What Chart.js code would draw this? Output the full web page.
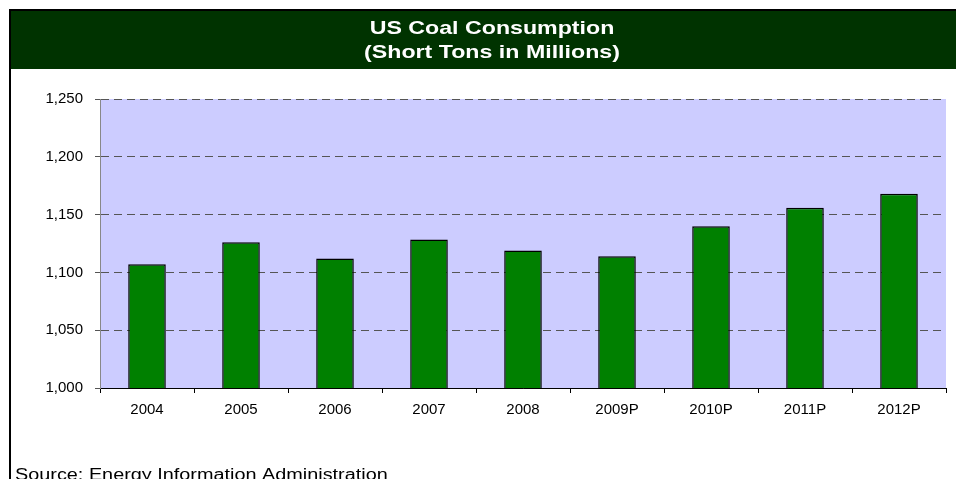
<!DOCTYPE html>
<html>
<head>
<meta charset="utf-8">
<script src="https://cdn.jsdelivr.net/npm/chart.js@4"></script>
<style>
html,body{margin:0;padding:0;background:#fff;}
canvas{display:block;}
</style>
</head>
<body>
<canvas id="c" width="956" height="479"></canvas>
<script>
const categories = ['2004','2005','2006','2007','2008','2009P','2010P','2011P','2012P'];
const consumption = [1107, 1126, 1112, 1128.5, 1119, 1114, 1140, 1156, 1168];
const titleLines = ['US Coal Consumption', '(Short Tons in Millions)'];
const sourceText = 'Source: Energy Information Administration';
const yMin = 1000, yMax = 1250, yStep = 50;

const framePlugin = {
  id: 'frame',
  beforeDraw(chart) {
    const ctx = chart.ctx, a = chart.chartArea;
    ctx.save();
    ctx.fillStyle = '#fff';
    ctx.fillRect(0, 0, chart.width, chart.height);
    ctx.fillStyle = '#003300';
    ctx.fillRect(10, 10, chart.width - 10, 59);
    ctx.strokeStyle = '#000';
    ctx.lineWidth = 2;
    ctx.beginPath();
    ctx.moveTo(10, chart.height);
    ctx.lineTo(10, 10);
    ctx.lineTo(chart.width, 10);
    ctx.stroke();
    ctx.fillStyle = '#CCCCFF';
    ctx.fillRect(a.left, a.top, a.right - a.left, a.bottom - a.top);
    ctx.restore();
  },
  afterDraw(chart) {
    const ctx = chart.ctx;
    ctx.save();
    ctx.fillStyle = '#fff';
    ctx.font = 'bold 19px "Liberation Sans", Arial, sans-serif';
    ctx.textAlign = 'center';
    ctx.textBaseline = 'alphabetic';
    const base = [33.5, 58];
    titleLines.forEach((t, i) => {
      ctx.save();
      ctx.translate(492, base[i]);
      ctx.scale(1.22, 1);
      ctx.fillText(t, 0, 0);
      ctx.restore();
    });
    ctx.fillStyle = '#000';
    ctx.font = '16px "Liberation Sans", Arial, sans-serif';
    ctx.textAlign = 'left';
    ctx.save();
    ctx.translate(15, 480);
    ctx.scale(1.24, 1);
    ctx.fillText(sourceText, 0, 0);
    ctx.restore();
    ctx.restore();
  }
};

new Chart(document.getElementById('c'), {
  type: 'bar',
  data: {
    labels: categories,
    datasets: [{
      data: consumption,
      backgroundColor: '#008000',
      borderColor: '#000',
      borderWidth: 1.5,
      barPercentage: 0.4,
      categoryPercentage: 1.0
    }]
  },
  options: {
    responsive: false,
    devicePixelRatio: 1,
    animation: false,
    layout: { padding: { top: 99, right: 10, left: 0, bottom: 0 } },
    plugins: { legend: { display: false }, title: { display: false }, tooltip: { enabled: false } },
    scales: {
      x: {
        afterFit(s) { s.height = 91; },
        grid: { display: true, drawOnChartArea: false, drawTicks: true, tickLength: 5, offset: true, color: '#000' },
        border: { display: true, color: '#000', width: 1 },
        ticks: { color: '#000', font: { family: '"Liberation Sans", Arial, sans-serif', size: 15 }, padding: 8, maxRotation: 0 }
      },
      y: {
        min: yMin, max: yMax,
        afterFit(s) { s.width = 100; },
        grid: { color: '#555', lineWidth: 1, tickLength: 5, tickColor: '#555', tickBorderDash: [] },
        border: { display: true, color: '#888', width: 1, dash: [8, 5] },
        ticks: {
          stepSize: yStep, color: '#000', padding: 12,
          font: { family: '"Liberation Sans", Arial, sans-serif', size: 15 },
          callback: v => v.toLocaleString('en-US')
        }
      }
    }
  },
  plugins: [framePlugin]
});
</script>
</body>
</html>
